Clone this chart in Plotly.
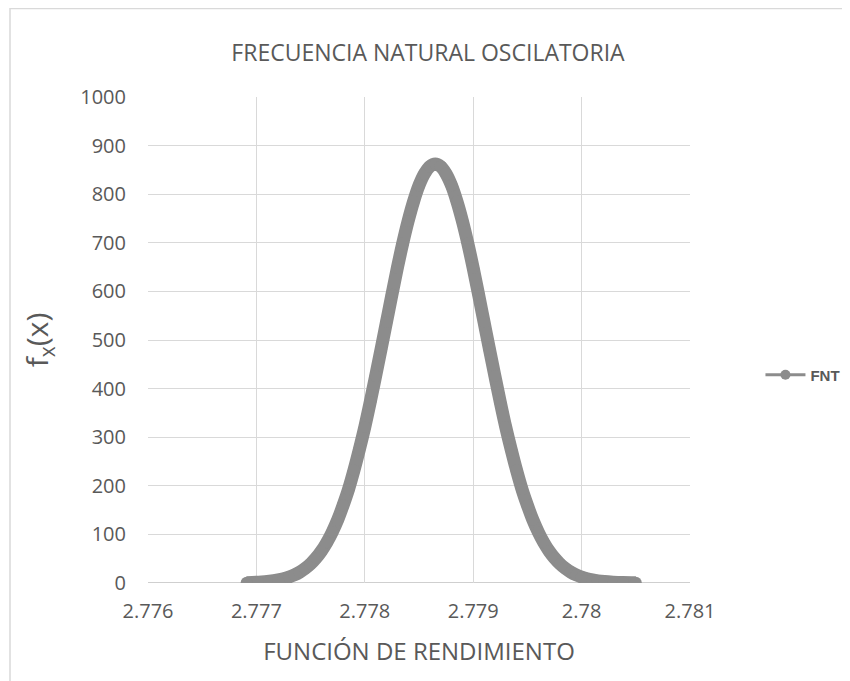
import plotly.graph_objects as go

# Data (x: función de rendimiento, y: f_x(x))
x_vals = [2.77691, 2.77702, 2.77712, 2.77720, 2.77725, 2.77730, 2.77735, 2.77740,
          2.77745, 2.77750, 2.77755, 2.77760, 2.77765, 2.77770, 2.77775, 2.77780,
          2.77785, 2.77790, 2.77795, 2.77800, 2.77805, 2.77810, 2.77815, 2.77820,
          2.77825, 2.77830, 2.77835, 2.77840, 2.77845, 2.77850, 2.77855, 2.77860,
          2.77865, 2.77870, 2.77875, 2.77880, 2.77885, 2.77890, 2.77895, 2.77900,
          2.77905, 2.77910, 2.77915, 2.77920, 2.77925, 2.77930, 2.77935, 2.77940,
          2.77945, 2.77950, 2.77955, 2.77960, 2.77965, 2.77970, 2.77975, 2.77980,
          2.77985, 2.77990, 2.77995, 2.78000, 2.78005, 2.78010, 2.78015, 2.78021,
          2.78029, 2.78038, 2.78050]
y_vals = [0.7, 1.8, 3.6, 6.4, 8.9, 12.3, 16.7, 22.5,
          30.0, 39.4, 51.3, 65.8, 83.6, 105, 130, 160,
          193, 232, 275, 321, 372, 426, 481, 537,
          593, 648, 699, 745, 785, 818, 842, 857,
          862, 857, 842, 818, 785, 745, 699, 648,
          593, 537, 481, 426, 372, 321, 275, 232,
          193, 160, 130, 105, 83.6, 65.8, 51.3, 39.4,
          30.0, 22.5, 16.7, 12.3, 8.9, 6.4, 4.5, 3.0,
          1.7, 0.8, 0.3]

x_ticks = [2.776, 2.777, 2.778, 2.779, 2.780, 2.781]
x_tick_text = ["2.776", "2.777", "2.778", "2.779", "2.78", "2.781"]
y_ticks = [0, 100, 200, 300, 400, 500, 600, 700, 800, 900, 1000]

GREY = "#8c8c8c"
TXT = "#595959"
FONT = "Open Sans, Liberation Sans, sans-serif"

fig = go.Figure()
fig.add_trace(go.Scatter(
    x=x_vals, y=y_vals, name="FNT", mode="lines+markers", showlegend=False,
    line=dict(color=GREY, width=13, shape="spline"),
    marker=dict(color=GREY, size=12),
))
# legend entry (no data drawn)
fig.add_trace(go.Scatter(
    x=[None], y=[None], name="FNT", mode="lines+markers", showlegend=True,
    line=dict(color=GREY, width=3),
    marker=dict(color=GREY, size=10),
))

fig.update_layout(
    width=850, height=681,
    paper_bgcolor="white", plot_bgcolor="white",
    margin=dict(l=140, r=168, t=89, b=106),
    font=dict(family=FONT, color=TXT),
    title=dict(text="FRECUENCIA NATURAL OSCILATORIA", x=(420 - 140) / 542, xref="paper",
               xanchor="center", y=0.934, yanchor="middle",
               font=dict(size=23, color=TXT, family=FONT)),
    xaxis=dict(range=[2.776, 2.781], tickvals=x_ticks, ticktext=x_tick_text,
               showgrid=True, gridcolor="#d9d9d9", gridwidth=1,
               zeroline=False, showline=False, ticks="", automargin=False,
               tickfont=dict(size=20, color=TXT), ticklabelstandoff=14,
               title=dict(text="FUNCIÓN DE RENDIMIENTO", font=dict(size=24, color=TXT), standoff=20)),
    yaxis=dict(range=[0, 1000], tickvals=y_ticks,
               showgrid=True, gridcolor="#d9d9d9", gridwidth=1,
               zeroline=False, showline=False, ticks="", automargin=False,
               tickfont=dict(size=20, color=TXT), ticklabelstandoff=21,
               title=dict(text="f<sub>x</sub>(x)", font=dict(size=30, color=TXT), standoff=22)),
    showlegend=True,
    legend=dict(x=1.13, y=0.428, xanchor="left", yanchor="middle",
                font=dict(size=15, color=TXT, family="Liberation Sans, sans-serif", weight="bold"),
                bgcolor="rgba(0,0,0,0)", itemwidth=40),
)

# x-axis baseline at y=0
fig.add_shape(type="line", xref="paper", yref="y", x0=0, x1=1, y0=0, y1=0,
              line=dict(color="#bfbfbf", width=1.5), layer="below")
# chart area border
fig.add_shape(type="rect", xref="paper", yref="paper",
              x0=(2 - 140) / 542, x1=1.5, y0=(575 - 0.5) / 486, y1=-0.5,
              line=dict(color="#d9d9d9", width=1.5), fillcolor="rgba(0,0,0,0)")

fig.write_html("out.html")
